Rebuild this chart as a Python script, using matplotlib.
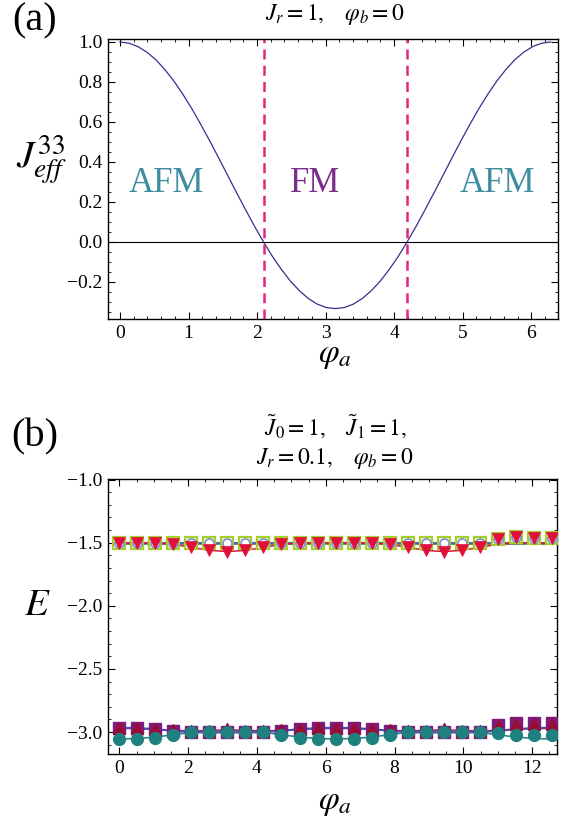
import numpy as np
import matplotlib
matplotlib.use("Agg")
import matplotlib.pyplot as plt
from matplotlib.ticker import MultipleLocator, FuncFormatter

plt.rcParams["font.family"] = ["Liberation Serif", "DejaVu Serif"]
plt.rcParams["mathtext.fontset"] = "stix"

# --- (a) effective coupling vs phi_a ---
phi_a = np.linspace(0, 2 * np.pi, 49)
j_eff = [1.000, 0.994, 0.977, 0.949, 0.911, 0.862, 0.805, 0.739, 0.667,
         0.588, 0.506, 0.420, 0.333, 0.246, 0.161, 0.078, 0.000, -0.073,
         -0.138, -0.196, -0.244, -0.283, -0.311, -0.328, -0.333, -0.328,
         -0.311, -0.283, -0.244, -0.196, -0.138, -0.073, 0.000, 0.078,
         0.161, 0.246, 0.333, 0.420, 0.506, 0.588, 0.667, 0.739, 0.805,
         0.862, 0.911, 0.949, 0.977, 0.994, 1.000]
zero_crossings = [2.094, 4.189]
phase_labels = ["AFM", "FM", "AFM"]
phase_x = [0.67, 2.85, 5.5]
phase_colors = ["#3d8ca0", "#7b2d8b", "#3d8ca0"]

# --- (b) energies vs phi_a (25 points, 0..4pi) ---
phi_b = np.linspace(0, 4 * np.pi, 25)

# upper band: lines
up_gray_line = [-1.500, -1.500, -1.500, -1.500, -1.500, -1.500, -1.500, -1.500, -1.500,
                -1.500, -1.500, -1.500, -1.500, -1.500, -1.500, -1.500, -1.500, -1.500,
                -1.500, -1.500, -1.500, -1.500, -1.500, -1.500, -1.500]
up_blue_line = [-1.500, -1.500, -1.500, -1.500, -1.500, -1.500, -1.500, -1.500, -1.500,
                -1.500, -1.500, -1.500, -1.500, -1.500, -1.500, -1.500, -1.500, -1.500,
                -1.500, -1.500, -1.500, -1.500, -1.500, -1.500, -1.500]
up_red_line = [-1.500, -1.500, -1.502, -1.512, -1.537, -1.560, -1.570, -1.560, -1.537,
               -1.512, -1.502, -1.500, -1.500, -1.500, -1.502, -1.512, -1.537, -1.560,
               -1.570, -1.560, -1.537, -1.512, -1.502, -1.500, -1.500]
# upper band: markers
up_squares = [-1.500, -1.500, -1.500, -1.500, -1.500, -1.500, -1.500, -1.500, -1.500,
              -1.500, -1.500, -1.500, -1.500, -1.500, -1.500, -1.500, -1.500, -1.500,
              -1.500, -1.500, -1.500, -1.468, -1.458, -1.466, -1.466]
up_circles = [-1.500, -1.500, -1.500, -1.500, -1.500, -1.500, -1.500, -1.500, -1.500,
              -1.500, -1.500, -1.500, -1.500, -1.500, -1.500, -1.500, -1.500, -1.500,
              -1.500, -1.500, -1.500, -1.468, -1.458, -1.466, -1.466]
up_triangles = [-1.500, -1.500, -1.502, -1.510, -1.535, -1.560, -1.570, -1.560, -1.535,
                -1.510, -1.502, -1.500, -1.500, -1.500, -1.502, -1.510, -1.535, -1.560,
                -1.570, -1.560, -1.535, -1.468, -1.458, -1.466, -1.466]

# lower band: lines
lo_teal_line = [-3.055, -3.050, -3.040, -3.020, -3.003, -3.000, -3.000, -3.000, -3.003,
                -3.020, -3.040, -3.050, -3.055, -3.050, -3.040, -3.020, -3.003, -3.000,
                -3.000, -3.000, -3.003, -3.020, -3.040, -3.050, -3.055]
lo_red_line = [-2.970, -2.972, -2.978, -2.987, -2.990, -2.987, -2.983, -2.987, -2.990,
               -2.987, -2.978, -2.972, -2.970, -2.972, -2.978, -2.987, -2.990, -2.987,
               -2.983, -2.987, -2.990, -2.987, -2.978, -2.972, -2.970]
lo_blue_line = [-2.965, -2.968, -2.976, -2.990, -3.000, -3.003, -3.003, -3.003, -3.000,
                -2.990, -2.976, -2.968, -2.965, -2.968, -2.976, -2.990, -3.000, -3.003,
                -3.003, -3.003, -3.000, -2.990, -2.976, -2.968, -2.965]
# lower band: markers
lo_squares = [-2.965, -2.965, -2.975, -2.990, -3.000, -3.000, -3.000, -3.000, -3.000,
              -2.990, -2.975, -2.965, -2.965, -2.965, -2.975, -2.990, -3.000, -3.000,
              -3.000, -3.000, -3.000, -2.945, -2.930, -2.930, -2.930]
lo_circles_blue = lo_squares
lo_triangles = [-2.968, -2.968, -2.975, -2.985, -2.990, -2.990, -2.978, -2.990, -2.990,
                -2.985, -2.975, -2.968, -2.968, -2.968, -2.975, -2.985, -2.990, -2.990,
                -2.978, -2.990, -2.990, -2.948, -2.933, -2.933, -2.933]
lo_teal_dots = [-3.057, -3.055, -3.045, -3.020, -3.000, -3.000, -3.000, -3.000, -3.000,
                -3.020, -3.045, -3.055, -3.057, -3.055, -3.045, -3.020, -3.000, -3.000,
                -3.000, -3.000, -3.000, -3.005, -3.020, -3.025, -3.020]


def fmt1(x, pos):
    if abs(x) < 1e-9:
        x = 0.0
    return f"{x:.1f}".replace("-", "\u2212")


def style_axes(ax):
    ax.tick_params(which="both", direction="in", top=True, right=True,
                   labelsize=14, pad=4)
    ax.tick_params(which="major", length=5, width=0.8)
    ax.tick_params(which="minor", length=2.5, width=0.6)
    for s in ax.spines.values():
        s.set_linewidth(1.0)


fig = plt.figure(figsize=(5.72, 8.24), dpi=100)

# ---------------- panel (a) ----------------
ax1 = fig.add_axes([0.1888, 0.6129, 0.7867, 0.3398])
ax1.plot(phi_a, j_eff, color="#3b2e8c", lw=0.9)
ax1.axhline(0, color="black", lw=0.8)
for xc in zero_crossings:
    ax1.axvline(xc, color="#e8257d", lw=1.8, dashes=(4, 2.5))
for lbl, xp, col in zip(phase_labels, phase_x, phase_colors):
    ax1.text(xp, 0.29, lbl, color=col, fontsize=25, ha="center", va="center")
ax1.set_xlim(-0.175, 6.39)
ax1.set_ylim(-0.385, 1.015)
ax1.xaxis.set_major_locator(MultipleLocator(1))
ax1.xaxis.set_minor_locator(MultipleLocator(0.2))
ax1.yaxis.set_major_locator(MultipleLocator(0.2))
ax1.yaxis.set_minor_locator(MultipleLocator(0.05))
ax1.yaxis.set_major_formatter(FuncFormatter(fmt1))
style_axes(ax1)

fig.text(0.061, 0.975, "(a)", fontsize=29, ha="center", va="center")
fig.text(0.586, 0.983, r"$J_r = 1, \quad \varphi_b = 0$", fontsize=17,
         ha="center", va="center")
fig.text(0.073, 0.806, r"$J_{eff}^{33}$", fontsize=28, ha="center", va="center")
fig.text(0.586, 0.568, r"$\varphi_a$", fontsize=24, ha="center", va="center")

# ---------------- panel (b) ----------------
ax2 = fig.add_axes([0.1888, 0.0850, 0.785, 0.3337])

# upper band
ax2.plot(phi_b, up_gray_line, color="#6f8a78", lw=2.2, zorder=2)
ax2.plot(phi_b, up_blue_line, color="#4a5ab8", lw=1.1, zorder=2)
ax2.plot(phi_b, up_red_line, color="#e0103a", lw=1.1, zorder=2)
ax2.plot(phi_b, up_squares, ls="none", marker="s", ms=8.5, mfc="#eef7d0",
         mec="#a6cf2c", mew=1.6, zorder=3)
ax2.plot(phi_b, up_circles, ls="none", marker="o", ms=6.5, mfc="white",
         mec="#7f8fd8", mew=1.2, zorder=4)
ax2.plot(phi_b, up_triangles, ls="none", marker="v", ms=8, mfc="#e0103a",
         mec="#e0103a", mew=0.5, zorder=5)

# lower band
ax2.plot(phi_b, lo_teal_line, color="#2a8a8a", lw=1.2, zorder=2)
ax2.plot(phi_b, lo_red_line, color="#a0284a", lw=1.2, zorder=2)
ax2.plot(phi_b, lo_blue_line, color="#4a50b0", lw=1.5, zorder=2)
ax2.plot(phi_b, lo_circles_blue, ls="none", marker="o", ms=8, mfc="#4b55b5",
         mec="#4b55b5", zorder=3)
ax2.plot(phi_b, lo_squares, ls="none", marker="s", ms=8.5, mfc="#7d1c7d",
         mec="#7d1c7d", zorder=4)
ax2.plot(phi_b, lo_triangles, ls="none", marker="^", ms=8.5, mfc="#990d35",
         mec="#990d35", zorder=5)
ax2.plot(phi_b, lo_teal_dots, ls="none", marker="o", ms=8.5, mfc="#1f8080",
         mec="#1f8080", zorder=6)

ax2.set_xlim(-0.33, 12.72)
ax2.set_ylim(-3.173, -0.995)
ax2.xaxis.set_major_locator(MultipleLocator(2))
ax2.xaxis.set_minor_locator(MultipleLocator(0.5))
ax2.yaxis.set_major_locator(MultipleLocator(0.5))
ax2.yaxis.set_minor_locator(MultipleLocator(0.1))
ax2.yaxis.set_major_formatter(FuncFormatter(fmt1))
style_axes(ax2)

fig.text(0.061, 0.470, "(b)", fontsize=29, ha="center", va="center")
fig.text(0.586, 0.482, r"$\tilde{J}_0 = 1, \quad \tilde{J}_1 = 1,$",
         fontsize=17, ha="center", va="center")
fig.text(0.586, 0.444, r"$J_r = 0.1, \quad \varphi_b = 0$", fontsize=17,
         ha="center", va="center")
fig.text(0.066, 0.265, r"$E$", fontsize=28, ha="center", va="center")
fig.text(0.586, 0.026, r"$\varphi_a$", fontsize=24, ha="center", va="center")

fig.savefig("out.png", dpi=100)
